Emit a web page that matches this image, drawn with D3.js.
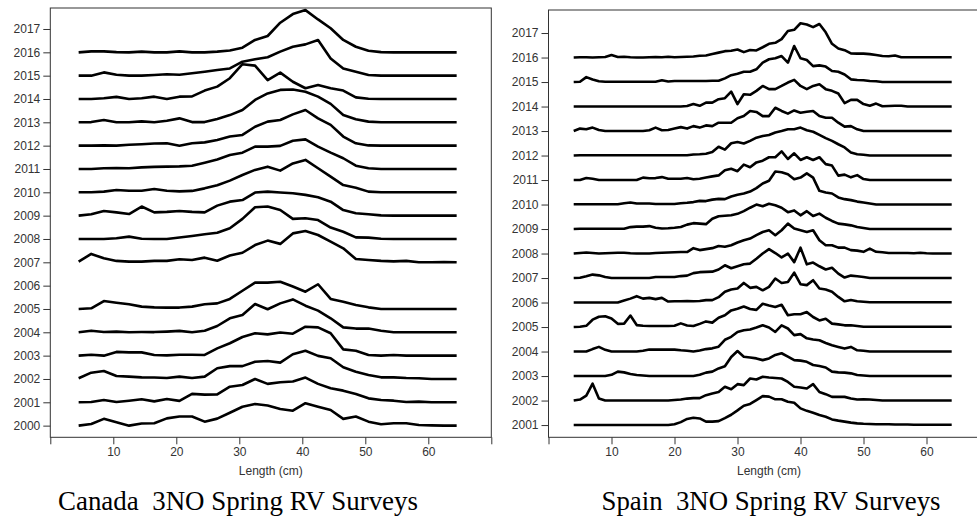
<!DOCTYPE html>
<html><head><meta charset="utf-8">
<script src="https://cdn.jsdelivr.net/npm/d3@7"></script>
<style>html,body{margin:0;padding:0;background:#fff}svg{display:block}</style>
</head><body>
<svg id="c" width="977" height="517"></svg>
<script>
// ---------- Canada 3NO spring survey: length bins (cm) ----------
const caLengths = [4.5,6.5,8.5,10.5,12.5,14.5,16.5,18.5,20.5,22.5,24.5,26.5,28.5,30.5,32.5,34.5,36.5,38.5,40.5,42.5,44.5,46.5,48.5,50.5,52.5,54.5,56.5,58.5,60.5,62.5,64.5];
const caYears = [2000,2001,2002,2003,2004,2005,2007,2008,2009,2010,2011,2012,2013,2014,2015,2016];
const caTickYears = [2000,2001,2002,2003,2004,2005,2006,2007,2008,2009,2010,2011,2012,2013,2014,2015,2016,2017];
// relative frequency, in units of one year spacing
const ca2000 = [0,.07,.29,.14,0,.09,.1,.31,.39,.39,.17,.3,.55,.81,.93,.86,.71,.64,.96,.81,.67,.29,.39,.17,.06,.1,.1,.03,.01,0,0];
const ca2001 = [0,.01,.1,.01,.07,.13,.04,.14,.06,.36,.33,.34,.67,.74,1.0,.79,.86,.89,1.06,.79,.6,.5,.36,.17,.1,.07,.01,.03,0,0,0];
const ca2002 = [.03,.27,.34,.13,.1,.07,.06,.04,.1,.04,.1,.46,.55,.55,.74,.77,.7,1.06,1.21,.99,.89,.5,.31,.17,.07,.07,.04,.03,0,0,0];
const ca2003 = [0,.04,0,.16,.14,.14,.03,.01,.04,.04,.03,.31,.53,.8,.96,.91,.99,.94,1.24,1.21,.96,.27,.21,.03,0,.03,0,0,0,0,0];
const ca2004 = [0,.07,.01,.03,0,.01,.01,.03,.06,0,.07,.27,.6,.74,1.21,.99,1.24,1.41,1.14,.93,.6,.21,.16,.16,.07,0,0,0,0,0,0];
const ca2005 = [0,.03,.34,.27,.2,.1,.07,.06,.06,.1,.2,.24,.43,.78,1.13,1.13,1.17,.96,.74,1.06,.43,.31,.17,.07,0,0,0,0,0,0,0];
const ca2007 = [.03,.36,.17,.06,.03,.03,.06,.06,.13,.1,.2,.07,.29,.41,.74,.93,.79,1.24,1.34,1.17,.89,.6,.14,.1,.06,.04,.06,0,0,.01,0];
const ca2008 = [0,0,0,.03,.1,.01,0,0,.06,.13,.2,.27,.46,.86,1.36,1.39,1.24,.86,.89,.81,.49,.31,.07,.06,.01,0,0,0,0,0,0];
const ca2009 = [0,.06,.2,.14,.07,.39,.14,.16,.2,.16,.14,.43,.6,.67,.99,1.03,.99,.96,.89,.79,.6,.24,.1,.06,.01,0,0,0,0,0,0];
const ca2010 = [0,0,.03,.1,.07,.07,.14,.07,.04,.06,.17,.3,.5,.74,.96,1.1,.93,1.24,1.39,1.03,.67,.31,.2,.03,0,0,0,0,0,0,0];
const ca2011 = [0,0,.03,.04,.03,.07,.09,.1,.11,.14,.27,.41,.6,.7,.96,.96,.99,1.21,1.27,.96,.7,.46,.14,.03,0,0,0,0,0,0,0];
const ca2012 = [0,0,.01,0,.04,.06,.09,.1,0,.1,.14,.24,.39,.46,.81,1.03,1.1,1.34,1.53,1.17,.89,.39,.1,.01,0,0,0,0,0,0,0];
const ca2013 = [0,.01,.1,0,0,.04,0,.07,.17,.01,.01,.14,.31,.53,.96,1.24,1.39,1.41,1.31,1.1,.79,.31,.13,.03,0,0,0,0,0,0,0];
const ca2014 = [0,0,.03,.09,0,.03,.1,0,.1,.11,.36,.53,.89,1.49,1.43,.81,1.13,.74,.46,.6,.46,.36,.07,.01,0,0,0,0,0,0,0];
const ca2015 = [0,0,.14,.04,0,0,.03,.06,.04,.1,.17,.24,.31,.6,.7,.79,1.03,1.24,1.34,1.53,.74,.31,.17,.03,0,0,0,0,0,0,0];
const ca2016 = [0,.04,.04,.01,0,.03,0,0,.04,0,0,.03,.08,.2,.53,.7,1.27,1.64,1.81,1.41,1.03,.53,.24,.07,.01,0,0,0,0,0,0];
const caSeries = [ca2000,ca2001,ca2002,ca2003,ca2004,ca2005,ca2007,ca2008,ca2009,ca2010,ca2011,ca2012,ca2013,ca2014,ca2015,ca2016];

// ---------- Spain 3NO spring survey: length bins (cm) ----------
const spLengths = [4,5,6,7,8,9,10,11,12,13,14,15,16,17,18,19,20,21,22,23,24,25,26,27,28,29,30,31,32,33,34,35,36,37,38,39,40,41,42,43,44,45,46,47,48,49,50,51,52,53,54,55,56,57,58,59,60,61,62,63,64];
const spYears = [2001,2002,2003,2004,2005,2006,2007,2008,2009,2010,2011,2012,2013,2014,2015,2016];
const spTickYears = [2001,2002,2003,2004,2005,2006,2007,2008,2009,2010,2011,2012,2013,2014,2015,2016,2017];
const sp2001 = [0,0,0,0,0,0,0,0,0,0,0,0,0,0,0,0,.03,.12,.25,.3,.27,.14,.14,.16,.28,.42,.6,.79,.86,1.02,1.18,1.16,1.05,1.05,.95,.91,.68,.58,.5,.41,.34,.23,.18,.14,.1,.07,.05,.04,.03,.03,.03,.02,.02,.02,.01,.01,.01,.01,.01,.01,.01];
const sp2002 = [0,.04,.2,.69,.08,0,0,0,0,0,0,0,0,0,0,0,.02,.04,.08,.1,.1,.22,.29,.35,.56,.46,.67,.63,.9,.86,.97,.94,.92,.9,.76,.56,.53,.49,.67,.35,.26,.15,.15,.15,.08,.04,.05,.04,.02,0,0,0,0,0,0,0,0,0,0,0,0];
const sp2003 = [0,0,0,0,0,0,.05,.18,.15,.08,.04,.02,0,0,0,0,0,0,0,0,.05,.14,.18,.31,.4,.78,1.02,.79,.76,.72,.65,.72,.86,.93,.79,.65,.63,.58,.45,.41,.35,.18,.15,.14,.11,.04,.02,0,0,0,0,0,0,0,0,0,0,0,0,0,0];
const sp2004 = [0,0,0,.1,.19,.07,0,0,0,0,0,.03,.08,.08,.08,.08,.08,.05,.03,0,.04,.1,.13,.2,.48,.6,.8,.87,.9,.98,1.07,.98,.8,1.07,.94,.67,.71,.54,.49,.46,.35,.26,.19,.12,.19,.05,.03,0,0,0,0,0,0,0,0,0,0,0,0,0,0];
const sp2005 = [0,.01,.05,.3,.42,.44,.35,.13,.14,.47,.08,.05,.04,.04,.04,.04,.05,.15,.06,.04,.13,.23,.18,.38,.48,.68,.75,.84,.74,.7,.95,.88,.82,.91,.48,.52,.52,.61,.41,.27,.34,.14,.11,.07,.07,.04,.01,.01,.01,.01,.01,.01,.01,.01,.01,.01,.01,.01,.01,.01,.01];
const sp2006 = [0,0,0,0,0,0,0,0,.08,.16,.26,.16,.19,.14,.19,.04,.05,.05,.06,.05,.06,.1,.1,.22,.44,.53,.57,.8,.6,.64,.5,.64,.98,.8,.84,1.22,.75,.71,.91,.57,.53,.44,.23,.05,.1,.05,.03,.01,.01,.01,.01,.01,.01,.01,.01,.01,.01,.01,.01,.01,.01];
const sp2007 = [0,.01,.07,.14,.11,.04,0,0,0,0,0,0,0,.04,.04,.04,.04,.08,.1,.2,.24,.25,.26,.35,.52,.4,.48,.56,.59,.79,1.0,1.18,1.02,.84,1.0,.65,1.24,.56,.63,.48,.35,.42,.18,.02,.1,.07,.04,0,0,0,0,0,0,0,0,0,0,0,0,0,0];
const sp2008 = [0,.02,.04,.02,0,.01,.02,.03,.03,.01,0,0,0,.02,.03,.04,.05,.06,.06,.22,.14,.18,.22,.31,.28,.34,.45,.54,.61,.75,.88,.95,.75,.95,1.22,1.02,.95,.88,.95,.54,.34,.34,.24,.24,.14,.12,.07,.2,.07,.05,.02,.02,.02,.02,.01,.03,.01,0,0,0,0];
const sp2009 = [0,.01,.01,.01,.01,.01,.01,.01,.01,.08,.1,.1,.12,.05,.02,.03,.05,.08,.18,.24,.22,.2,.42,.52,.54,.56,.62,.73,.87,1.0,.93,1.03,.97,.87,.69,.76,.56,.73,.53,.63,.46,.33,.22,.19,.15,.08,.04,0,0,0,0,0,0,0,0,0,0,0,0,0,0];
const sp2010 = [.01,.01,.01,.01,.01,.01,.01,.01,.05,.08,.04,.04,.04,.02,.02,.02,.02,.05,.07,.1,.15,.14,.2,.23,.22,.33,.4,.45,.53,.67,.86,.97,1.35,1.32,1.24,1.03,1.1,1.27,1.1,.56,.49,.45,.29,.22,.18,.12,.08,.04,0,0,0,0,0,0,0,0,0,0,0,0,0];
const sp2011 = [0,0,.08,.05,0,0,0,0,0,0,0,.1,.07,.08,.12,.05,.05,.05,.08,.03,.05,.1,.15,.19,.4,.46,.36,.63,.52,.72,.79,.93,.93,1.17,.86,1.09,.82,.93,.82,.93,.65,.59,.18,.22,.11,.2,.04,0,0,0,0,0,0,0,0,0,0,0,0,0,0];
const sp2012 = [0,.01,.01,.01,.01,.01,.01,.01,.01,.01,.01,.01,.01,.01,.01,.01,.01,.01,.01,.04,.05,.07,.14,.36,.24,.5,.55,.49,.6,.73,.8,.84,.94,1.0,1.07,1.07,1.14,1.03,.97,.84,.71,.6,.46,.33,.12,.05,.03,0,0,0,0,0,0,0,0,0,0,0,0,0,0];
const sp2013 = [0,.1,.07,.14,.04,0,0,0,0,0,0,0,.03,.14,.03,.04,.1,.16,.1,.2,.14,.23,.2,.34,.34,.34,.52,.61,.82,.78,.61,.61,.95,.82,.71,.84,.75,.79,.82,.61,.54,.54,.34,.18,.2,.07,0,0,0,0,0,0,0,0,0,0,0,0,0,0,0];
const sp2014 = [0,0,0,0,0,0,0,0,0,0,0,0,0,0,0,0,0,0,.02,.1,.03,.16,.16,.3,.34,.61,.1,.5,.48,.64,.84,.71,.71,.84,.98,1.09,.84,.71,.84,.91,.71,.64,.53,.14,.27,.27,.1,.03,.12,.01,.02,.03,.03,0,0,0,0,0,0,0,0];
const sp2015 = [0,.01,.2,.1,.03,.01,.01,.01,.01,.01,.01,.01,.01,.01,.07,.02,.04,.04,.04,.04,.04,.04,.05,.05,.15,.28,.34,.42,.42,.52,.79,.93,.97,1.06,.79,1.47,.97,.9,.65,.68,.63,.45,.42,.31,.11,.08,.07,.04,.03,0,0,0,0,0,0,0,0,0,0,0,0];
const sp2016 = [0,.01,.01,0,.01,.02,.1,.02,.03,.01,0,0,.01,.02,.01,.03,.01,.02,.03,.04,.07,.08,.14,.2,.26,.28,.33,.22,.31,.29,.42,.56,.6,.75,1.08,1.13,1.4,1.35,1.24,1.37,1.03,.56,.37,.3,.17,.16,.16,.14,.1,.06,.05,.08,.01,.01,.01,.01,.01,.01,.01,.01,.01];
const spSeries = [sp2001,sp2002,sp2003,sp2004,sp2005,sp2006,sp2007,sp2008,sp2009,sp2010,sp2011,sp2012,sp2013,sp2014,sp2015,sp2016];

const xTicks = [0,10,20,30,40,50,60,70];
const xLabelTicks = [10,20,30,40,50,60];
const xTitle = "Length (cm)";
const captions = ["Canada  3NO Spring RV Surveys", "Spain  3NO Spring RV Surveys"];

// ---------- drawing ----------
const svg = d3.select("#c");
const FONT = "'Liberation Sans', Arial, Helvetica, sans-serif";

function panel(cfg) {
  const x = d3.scaleLinear().domain([0, 70]).range([cfg.left, cfg.left + 441]);
  const y = d3.scaleLinear().domain(cfg.yDomain).range([437.3, cfg.top]);
  const g = svg.append("g");

  const line = d3.line().x(d => x(d[0])).y(d => y(d[1]));
  cfg.years.forEach((yr, i) => {
    const pts = cfg.lengths.map((L, j) => [L, yr + cfg.series[i][j]]);
    g.append("path").attr("d", line(pts))
      .attr("fill", "none").attr("stroke", "#000")
      .attr("stroke-width", 2.6).attr("stroke-linejoin", "round");
  });

  // frame
  g.append("rect")
    .attr("x", cfg.left).attr("y", cfg.top)
    .attr("width", x(70) - cfg.left).attr("height", 437.3 - cfg.top)
    .attr("fill", "none").attr("stroke", "#333").attr("stroke-width", 1);

  const ya = g.append("g").attr("transform", `translate(${cfg.left},0)`)
    .call(d3.axisLeft(y).tickValues(cfg.tickYears).tickSize(7).tickPadding(3).tickFormat(d3.format("d")));
  const xa = g.append("g").attr("transform", "translate(0,437.3)")
    .call(d3.axisBottom(x).tickValues(xTicks).tickSize(7).tickPadding(3)
      .tickFormat(d => xLabelTicks.includes(d) ? String(d) : ""));
  [ya, xa].forEach(a => {
    a.select(".domain").remove();
    a.selectAll("line").attr("stroke", "#333");
    a.selectAll("text").attr("fill", "#333").style("font-family", FONT).style("font-size", "12px");
  });

  g.append("text").attr("x", (cfg.left + x(70)) / 2).attr("y", 475)
    .attr("text-anchor", "middle").attr("fill", "#333")
    .style("font-family", FONT).style("font-size", "12px").text(xTitle);

  g.append("text").attr("x", cfg.capX).attr("y", 510)
    .attr("text-anchor", "middle").attr("fill", "#000")
    .attr("xml:space", "preserve").style("white-space", "pre")
    .attr("textLength", cfg.capW).attr("lengthAdjust", "spacingAndGlyphs")
    .style("font-family", "'Liberation Serif', 'Times New Roman', serif").style("font-size", "28px")
    .text(cfg.caption);
}

panel({left: 50.3, top: 8, yDomain: [1999.5, 2017.9], years: caYears, tickYears: caTickYears,
       lengths: caLengths, series: caSeries, caption: captions[0], capX: 238, capW: 360});
panel({left: 548.5, top: 10, yDomain: [2000.5, 2017.94], years: spYears, tickYears: spTickYears,
       lengths: spLengths, series: spSeries, caption: captions[1], capX: 771, capW: 339});
</script>
</body></html>
